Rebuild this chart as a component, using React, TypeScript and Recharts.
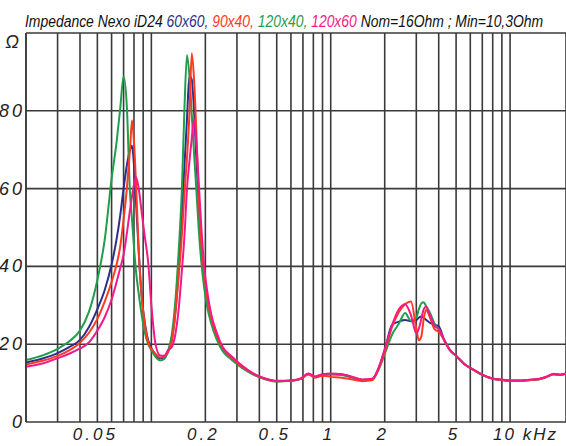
import React from "react";
import { LineChart, Line, XAxis, YAxis, CartesianGrid } from "recharts";

// frequency in kHz, impedance in ohm
const FREQ = [
  0.02, 0.025, 0.03, 0.035, 0.04, 0.045, 0.05, 0.055, 0.06, 0.064,
  0.067, 0.07, 0.073, 0.076, 0.078, 0.08, 0.082, 0.085, 0.088, 0.092,
  0.096, 0.1, 0.106, 0.112, 0.118, 0.124, 0.13, 0.136, 0.142, 0.148,
  0.153, 0.158, 0.163, 0.168, 0.173, 0.178, 0.184, 0.19, 0.197, 0.205,
  0.215, 0.23, 0.25, 0.28, 0.32, 0.37, 0.43, 0.5, 0.6, 0.68,
  0.75, 0.82, 0.9, 1.0, 1.15, 1.3, 1.5, 1.7, 1.85, 2.0,
  2.2, 2.4, 2.6, 2.8, 3.0, 3.1, 3.2, 3.3, 3.4, 3.6,
  3.8, 4.0, 4.3, 4.6, 5.0, 5.6, 6.3, 7.0, 8.0, 9.0,
  10, 11.5, 13, 14.5, 16, 17.5, 19, 20.5,
];

// 60x60
const BLUE = [
  15.3, 16.4, 17.7, 19.3, 21.1, 24.5, 29, 34, 40.5, 47,
  53, 60, 66, 70, 71, 66, 57, 44, 33, 25.5,
  21, 19, 17.2, 16.3, 16.6, 18.2, 21.2, 28, 39, 53,
  66, 78, 89, 88, 80, 68, 55, 45, 38, 31.8,
  27, 22.5, 18.8, 16.4, 14.1, 12.3, 11.1, 10.5, 10.6, 11.1,
  12.4, 11.6, 12.2, 12.3, 12.2, 11.6, 10.8, 11, 13.8, 18.5,
  25, 25.8, 26.2, 25.9, 26.2, 26.8, 27.1, 26.8, 26.3, 25.4,
  25, 24.6, 21, 18.6, 17, 14.8, 13.3, 12.1, 11.1, 10.8,
  10.6, 10.6, 10.8, 11, 11.6, 12.3, 12.1, 12.4,
];

// 90x40
const RED = [
  14.8, 15.8, 17, 18.5, 20.4, 23, 26.5, 31, 36, 40.5,
  45, 52, 60, 70, 77.5, 72, 62, 44, 33, 25,
  20.5, 18.8, 17.4, 16.6, 16.8, 18, 20.7, 28, 37.5, 48,
  59, 68, 79, 94.8, 88, 75, 57, 46, 38.5, 32,
  27, 22.7, 19, 16.5, 14.2, 12.4, 11.1, 10.5, 10.6, 11.1,
  12.2, 11.4, 11.9, 11.6, 11.4, 11, 10.5, 10.7, 13.6, 18,
  24.5, 28.3, 30.3, 31, 24, 21, 22, 26.5, 28.8, 26.5,
  23.8, 23.2, 21, 18.6, 17, 14.8, 13.3, 12.1, 11.1, 10.8,
  10.6, 10.6, 10.8, 11, 11.6, 12.3, 12.1, 12.4,
];

// 120x40
const GREEN = [
  15.9, 17.2, 18.8, 20.8, 23.5, 28.5, 36.5, 47, 62.5, 72,
  80.5, 88.8, 81, 59, 52, 45, 39, 33, 28, 23,
  20, 18.5, 16.6, 15.8, 16.2, 18.3, 22.5, 31, 44, 60,
  81, 94.3, 89, 79, 69, 60, 49, 41, 34.5, 29.5,
  25.5, 21.5, 18.2, 16, 13.9, 12.2, 11, 10.4, 10.6, 11.1,
  12.3, 11.5, 12.1, 12.3, 12.1, 11.5, 10.8, 10.9, 13.5, 17.5,
  22.5, 25.3, 28, 26, 26.8, 29, 30.5, 30.8, 29.8, 27.8,
  25.2, 23.8, 21, 18.6, 17, 14.8, 13.3, 12.1, 11.1, 10.8,
  10.6, 10.6, 10.8, 11, 11.6, 12.3, 12.1, 12.4,
];

// 120x60
const MAGENTA = [
  14.2, 15.1, 16.4, 17.6, 18.9, 20.5, 23.5, 27, 31.5, 36,
  39.5, 43, 48.5, 54.5, 58, 61, 63, 60, 54.5, 47.5,
  41, 30, 19.5, 17.1, 17, 18.5, 19.3, 22.5, 29, 39,
  48, 60, 67, 73, 77.8, 72, 61, 50, 40, 33.5,
  28, 23.3, 19.3, 16.9, 14.5, 12.5, 11.2, 10.6, 10.7, 11.2,
  12.5, 11.7, 12.3, 12.5, 12.3, 11.7, 10.9, 11.1, 14, 18.7,
  25, 29, 30.3, 27.5, 22.8, 24, 26.5, 29, 29.6, 27,
  24.6, 24, 21, 18.6, 17, 14.8, 13.4, 12.2, 11.2, 10.9,
  10.7, 10.7, 10.9, 11.1, 11.7, 12.4, 12.2, 12.5,
];

const GRID_FREQ = [
  0.02, 0.03, 0.04, 0.05, 0.06, 0.07, 0.08, 0.09,
  0.1, 0.2, 0.3, 0.4, 0.5, 0.6, 0.7, 0.8, 0.9,
  1, 2, 3, 4, 5, 6, 7, 8, 9, 10,
];
const FREQ_LABELS: Record<string, string> = {
  "0.05": "0.05",
  "0.2": "0.2",
  "0.5": "0.5",
  "1": "1",
  "2": "2",
  "5": "5",
  "10": "10 kHz",
};
const OHM_TICKS = [0, 20, 40, 60, 80, 100];

const rows = FREQ.map((f, i) => ({
  f,
  blue: BLUE[i],
  red: RED[i],
  green: GREEN[i],
  magenta: MAGENTA[i],
}));

const GRID = "#3a3a3a";
const FONT = "'Liberation Sans', Arial, sans-serif";

function FreqTick({ x, y, payload }: any) {
  const label = FREQ_LABELS[String(payload.value)];
  if (!label) return <g />;
  const wide = label.endsWith("kHz");
  return (
    <text
      x={wide ? x - 17 : x - 2}
      y={y + 10}
      textAnchor={wide ? "start" : "middle"}
      fontFamily={FONT}
      fontStyle="italic"
      fontSize={17}
      letterSpacing={wide ? 2 : 3}
      fill="#222"
    >
      {label}
    </text>
  );
}

function OhmTick({ y, payload }: any) {
  const top = payload.value === 100;
  return (
    <text
      x={top ? 22 : 25}
      y={top ? y + 15 : y + 6}
      textAnchor="end"
      fontFamily={FONT}
      fontStyle="italic"
      fontSize={18}
      letterSpacing={3}
      fill="#222"
    >
      {top ? "Ω" : payload.value}
    </text>
  );
}

export default function App() {
  return (
    <div
      style={{
        position: "absolute",
        left: 0,
        top: 0,
        width: 566,
        height: 446,
        background: "#fff",
        overflow: "hidden",
      }}
    >
      <LineChart
        width={566}
        height={446}
        data={rows}
        margin={{ top: 33, right: 0, bottom: 0, left: 0 }}
      >
        <CartesianGrid stroke={GRID} strokeWidth={1.6} />
        <XAxis
          dataKey="f"
          type="number"
          scale="log"
          domain={[0.02, 20.5]}
          allowDataOverflow
          ticks={GRID_FREQ}
          interval={0}
          height={24}
          axisLine={false}
          tickLine={false}
          tick={<FreqTick />}
        />
        <YAxis
          type="number"
          domain={[0, 100]}
          ticks={OHM_TICKS}
          interval={0}
          width={26}
          axisLine={{ stroke: GRID, strokeWidth: 1.6 }}
          tickLine={false}
          tick={<OhmTick />}
        />
        <Line type="monotone" dataKey="blue" stroke="#2b2f8c" strokeWidth={2} dot={false} isAnimationActive={false} />
        <Line type="monotone" dataKey="green" stroke="#1f9e4c" strokeWidth={2} dot={false} isAnimationActive={false} />
        <Line type="monotone" dataKey="red" stroke="#ff3a20" strokeWidth={2} dot={false} isAnimationActive={false} />
        <Line type="monotone" dataKey="magenta" stroke="#f5188a" strokeWidth={2} dot={false} isAnimationActive={false} />
      </LineChart>
      <svg
        width={566}
        height={32}
        style={{ position: "absolute", left: 0, top: 0, pointerEvents: "none" }}
      >
        {/* condensed title: squeeze horizontally */}
        <text
          transform="translate(25 27) scale(0.87 1)"
          fontFamily={FONT}
          fontStyle="italic"
          fontSize={16}
          fill="#111"
        >
          Impedance Nexo iD24{" "}
          <tspan fill="#2b2f8c">60x60,</tspan>{" "}
          <tspan fill="#ff3a20">90x40,</tspan>{" "}
          <tspan fill="#1f9e4c">120x40,</tspan>{" "}
          <tspan fill="#f5188a">120x60</tspan> Nom=16Ohm ; Min=10,3Ohm
        </text>
      </svg>
    </div>
  );
}
